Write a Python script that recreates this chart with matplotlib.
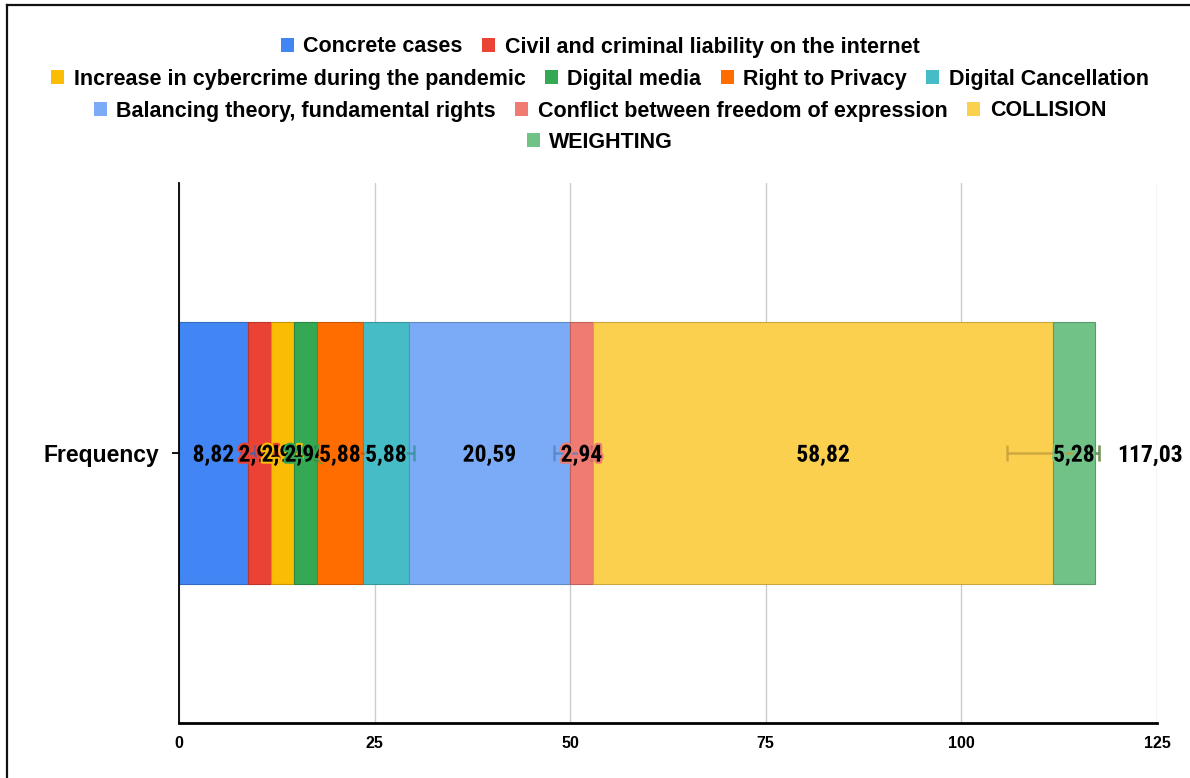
import matplotlib
matplotlib.use("Agg")
import matplotlib.pyplot as plt
import matplotlib.colors as mcolors
import matplotlib.patheffects as pe
from matplotlib import font_manager as fm

# Data
category = "Frequency"
series_names = [
    "Concrete cases",
    "Civil and criminal liability on the internet",
    "Increase in cybercrime during the pandemic",
    "Digital media",
    "Right to Privacy",
    "Digital Cancellation",
    "Balancing theory, fundamental rights",
    "Conflict between freedom of expression",
    "COLLISION",
    "WEIGHTING",
]
series_values = [8.82, 2.94, 2.94, 2.94, 5.88, 5.88, 20.59, 2.94, 58.82, 5.28]
series_colors = [
    "#4285F4", "#EA4335", "#FBBC04", "#34A853", "#FF6D01",
    "#46BDC6", "#7BAAF7", "#F07B72", "#FCD04F", "#71C287",
]
error_fraction = 0.10
x_ticks = [0, 25, 50, 75, 100, 125]
legend_rows = [[0, 1], [2, 3, 4, 5], [6, 7, 8], [9]]

main_font = ["Liberation Sans", "DejaVu Sans"]
plt.rcParams["font.family"] = main_font

# prefer a narrow face for the value labels when one is available
installed = {f.name for f in fm.fontManager.ttflist}
narrow = [n for n in ("Liberation Sans Narrow", "Roboto Condensed", "Arial Narrow")
          if n in installed]
if narrow:
    value_font, value_size = [narrow[0]] + main_font, 17
else:
    value_font, value_size = main_font, 15


def fmt(v):
    return f"{v:.2f}".replace(".", ",")


def darker(c, f=0.7):
    r, g, b = mcolors.to_rgb(c)
    return (r * f, g * f, b * f)


fig = plt.figure(figsize=(11.9, 7.78), dpi=100)
ax = fig.add_axes([179 / 1190, 1 - 723 / 778, (1157 - 179) / 1190, (723 - 183) / 778])

left = 0.0
handles = []
bar_h = 0.487
for name, val, col in zip(series_names, series_values, series_colors):
    b = ax.barh([0], [val], left=left, height=bar_h, color=col,
                edgecolor=darker(col, 0.8), linewidth=0.8, label=name, zorder=2)
    handles.append(b)
    left += val

# error bars at each segment end
left = 0.0
for val, col in zip(series_values, series_colors):
    end = left + val
    ax.errorbar([end], [0], xerr=[val * error_fraction], fmt="none",
                ecolor=darker(col, 0.75), alpha=0.75, elinewidth=1.8,
                capsize=6, capthick=1.8, zorder=3)
    left = end

# value labels
left = 0.0
for val, col in zip(series_values, series_colors):
    ax.text(left + val / 2, -0.004, fmt(val), ha="center", va="center",
            fontsize=value_size, fontweight="bold", family=value_font, color="black",
            zorder=5,
            path_effects=[pe.withStroke(linewidth=3, foreground=col)])
    left += val

total = sum(series_values)
ax.annotate(fmt(total), xy=(total, -0.004), xytext=(16, 0), textcoords="offset points",
            ha="left", va="center", fontsize=value_size, fontweight="bold",
            family=value_font, color="black", annotation_clip=False, zorder=5)

ax.set_xlim(0, 125)
ax.set_ylim(-0.5, 0.5)
ax.set_xticks(x_ticks)
ax.set_xticklabels([str(t) for t in x_ticks], fontsize=11.5, fontweight="bold")
ax.set_yticks([0])
ax.set_yticklabels([category], fontsize=16.5, fontweight="bold")
ax.tick_params(axis="x", length=0, pad=9)
ax.tick_params(axis="y", length=5, width=1.3, pad=9, color="black")
ax.grid(axis="x", color="#cccccc", linewidth=1, zorder=0)
ax.set_axisbelow(True)
for s in ["top", "right"]:
    ax.spines[s].set_visible(False)
ax.spines["left"].set_linewidth(1.3)
ax.spines["bottom"].set_linewidth(2)
ax.spines["left"].set_zorder(4)

# legend, one centred row at a time
row_y = [1 - 47 / 778, 1 - 79 / 778, 1 - 111 / 778, 1 - 142 / 778]
for idx, y in zip(legend_rows, row_y):
    leg = fig.legend([handles[i] for i in idx], [series_names[i] for i in idx],
                     loc="center", bbox_to_anchor=(600 / 1190, y), ncol=len(idx),
                     frameon=False, prop={"family": main_font, "weight": "bold", "size": 15.5},
                     handlelength=0.6, handleheight=0.6, handletextpad=0.45,
                     columnspacing=0.9, borderpad=0, borderaxespad=0)
    for h in leg.legend_handles:
        h.set_edgecolor("none")

# frame lines along top and left edge
fig.add_artist(plt.Line2D([7 / 1190, 1], [1 - 5 / 778, 1 - 5 / 778], color="#111111",
                          linewidth=1.6, transform=fig.transFigure))
fig.add_artist(plt.Line2D([7 / 1190, 7 / 1190], [0, 1 - 5 / 778], color="#111111",
                          linewidth=1.6, transform=fig.transFigure))

fig.savefig("out.png", dpi=100, facecolor="white")
